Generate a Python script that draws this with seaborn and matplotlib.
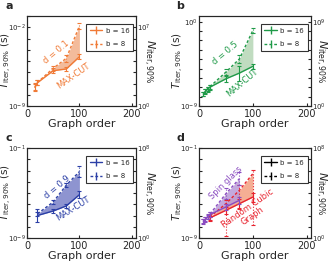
import numpy as np
import pandas as pd
import matplotlib
matplotlib.use("Agg")
import matplotlib.pyplot as plt
import seaborn as sns
from matplotlib.lines import Line2D

# --- data (log10 of T_iter,90% in seconds), error bars in decades ---
a_x = [15, 20, 50, 75, 100]
a_y16 = [-7.34, -6.93, -5.86, -5.71, -4.62]
a_e16 = [0.35, 0.2, 0.2, 0.15, 0.2]
a_y8 = [-7.3, -6.9, -5.65, -4.76, -1.89]
a_e8 = [0.3, 0.2, 0.2, 0.3, 0.3]

b_x = [8, 12, 16, 20, 50, 75, 100]
b_y16 = [-7.75, -7.46, -7.21, -7.0, -6.1, -5.49, -4.77]
b_e16 = [0.2, 0.25, 0.25, 0.25, 0.3, 0.8, 0.3]
b_y8 = [-7.7, -7.4, -7.15, -6.95, -5.38, -3.98, -0.94]
b_e8 = [0.2, 0.2, 0.2, 0.2, 0.3, 0.4, 0.3]

c_x = [20, 50, 75, 100]
c_y16 = [-7.0, -6.6, -6.15, -5.15]
c_e16 = [0.6, 0.2, 0.2, 0.3]
c_y8 = [-6.85, -5.8, -4.3, -3.1]
c_e8 = [0.2, 0.2, 0.2, 0.5]

d_sg_x = [8, 12, 16, 20, 50, 75]
d_sg_y16 = [-7.52, -7.35, -7.15, -6.93, -6.24, -5.65]
d_sg_e16 = [0.2, 0.2, 0.2, 0.2, 0.3, 0.3]
d_sg_y8 = [-7.5, -7.3, -7.1, -6.9, -5.06, -3.73]
d_sg_e8 = [0.2, 0.2, 0.2, 0.2, 0.5, 0.6]

d_rc_x = [20, 50, 75, 100]
d_rc_y16 = [-7.22, -6.54, -5.95, -5.36]
d_rc_e16 = [0.2, 0.3, 0.4, 0.4]
d_rc_y8 = [-7.15, -5.95, -4.76, -3.28]
d_rc_e8_lo = [0.3, 2.9, 1.65, 4.6]
d_rc_e8_hi = [0.3, 0.33, 0.43, 0.3]

ORANGE = "#f07a36"
ORANGE_F = "#f2b08a"
GREEN = "#1f9a48"
GREEN_F = "#b5d6b5"
BLUE = "#2b3fa6"
BLUE_F = "#7a82c8"
PURPLE = "#8a4cc0"
PURPLE_F = "#b99ad8"
RED = "#e8232e"
RED_F = "#f4a081"

sns.set_style("ticks")
plt.rcParams["font.family"] = ["DejaVu Sans"]

fig = plt.figure(figsize=(3.32, 2.64), dpi=100)


def draw_series(ax, x, y16, e16, y8, e8, color, fill, e8_hi=None):
    x = np.array(x)
    t16 = 10.0 ** np.array(y16)
    t8 = 10.0 ** np.array(y8)
    ax.fill_between(x, t16, t8, color=fill, alpha=0.85, lw=0)
    df = pd.DataFrame({"x": np.concatenate([x, x]),
                       "t": np.concatenate([t16, t8]),
                       "b": ["16"] * len(x) + ["8"] * len(x)})
    sns.lineplot(data=df, x="x", y="t", style="b", style_order=["16", "8"],
                 dashes={"16": "", "8": (2, 1.5)}, color=color, lw=1,
                 legend=False, ax=ax)
    if e8_hi is None:
        e8_hi = e8
    for yy, elo, ehi, ls in [(y16, e16, e16, "-"), (y8, e8, e8_hi, ":")]:
        yy = np.array(yy)
        lo = 10.0 ** yy - 10.0 ** (yy - np.array(elo))
        hi = 10.0 ** (yy + np.array(ehi)) - 10.0 ** yy
        eb = ax.errorbar(x, 10.0 ** yy, yerr=[lo, hi], fmt="none", ecolor=color,
                         elinewidth=0.8, capsize=1.2, capthick=0.8)
        eb[2][0].set_linestyle(ls)


def setup(ax, ylo, ytop, ylab, nlab, label, nx):
    # ytop: upper limit (log10) of left axis, ylab: labelled top decade
    ax.set_yscale("log")
    ax.set_xlim(0, 208)
    ax.set_ylim(10.0 ** ylo, 10.0 ** ytop)
    ax.set_xticks([0, 100, 200])
    ax.tick_params(axis="x", labelsize=7, length=2, pad=2.5, direction="in")
    ticks = [10.0 ** k for k in range(ylo, int(np.floor(ytop)) + 1)]
    labels = [""] * len(ticks)
    labels[0] = f"$10^{{{ylo}}}$"
    labels[ylab - ylo] = f"$10^{{{ylab}}}$"
    ax.set_yticks(ticks)
    ax.set_yticklabels(labels)
    ax.minorticks_off()
    ax.tick_params(axis="y", labelsize=5, length=2, pad=1, direction="in")
    ax.set_xlabel("Graph order", fontsize=8, labelpad=0)
    ax.set_ylabel(r"$T_{\rm iter,90\%}$ (s)", fontsize=7.5)
    ax.yaxis.set_label_coords(-0.12, 0.5)
    for s in ax.spines.values():
        s.set_linewidth(0.8)
    ax2 = ax.twinx()
    ax2.set_yscale("log")
    span = ytop - ylo
    ax2.set_ylim(1, 10.0 ** span)
    t2 = [10.0 ** k for k in range(0, int(np.floor(span)) + 1)]
    l2 = [""] * len(t2)
    l2[0] = "$10^{0}$"
    l2[nlab] = f"$10^{{{nlab}}}$"
    ax2.set_yticks(t2)
    ax2.set_yticklabels(l2)
    ax2.minorticks_off()
    ax2.tick_params(axis="y", labelsize=5, length=2, pad=1, direction="in")
    ax2.set_ylabel(r"$N_{\rm iter,90\%}$", fontsize=8, rotation=270,
                   va="bottom")
    ax2.yaxis.set_label_coords(nx, 0.5)
    ax.text(-0.2, 1.11, label, transform=ax.transAxes, fontsize=8,
            fontweight="bold", va="center")


def add_legend(ax, color):
    h = [Line2D([], [], color=color, lw=1, marker="|", ms=6),
         Line2D([], [], color=color, lw=1, ls=(0, (2, 1.5)), marker="|", ms=6)]
    leg = ax.legend(h, ["b = 16", "b = 8"], loc="upper right", fontsize=5,
                    frameon=True, fancybox=False, edgecolor="black",
                    handlelength=1.8, handletextpad=0.5, borderpad=0.5,
                    labelspacing=1.1, borderaxespad=0,
                    bbox_to_anchor=(0.97, 0.91))
    leg.get_frame().set_linewidth(0.8)


W, H = 332, 264
boxes = {"a": (27, 16, 136, 106), "b": (199, 16, 311, 106),
         "c": (27, 148, 136, 238), "d": (199, 148, 311, 238)}


def make_ax(key):
    l, t, r, b = boxes[key]
    return fig.add_axes([l / W, 1 - b / H, (r - l) / W, (b - t) / H])


ax = make_ax("a")
draw_series(ax, a_x, a_y16, a_e16, a_y8, a_e8, ORANGE, ORANGE_F)
setup(ax, -9, -1, -2, 7, "a", 1.05)
add_legend(ax, ORANGE)
ax.text(28, 10 ** -5.2, "d = 0.1", color=ORANGE, fontsize=6, rotation=40)
ax.text(54, 10 ** -7.5, "MAX-CUT", color=ORANGE, fontsize=6, rotation=35)

ax = make_ax("b")
draw_series(ax, b_x, b_y16, b_e16, b_y8, b_e8, GREEN, GREEN_F)
setup(ax, -9, 0.6, 0, 9, "b", 1.02)
add_legend(ax, GREEN)
ax.text(21, 10 ** -4.6, "d = 0.5", color=GREEN, fontsize=6, rotation=40)
ax.text(47, 10 ** -8.0, "MAX-CUT", color=GREEN, fontsize=6, rotation=40)

ax = make_ax("c")
draw_series(ax, c_x, c_y16, c_e16, c_y8, c_e8, BLUE, BLUE_F)
setup(ax, -9, -1, -1, 8, "c", 1.05)
add_legend(ax, BLUE)
ax.text(29, 10 ** -5.5, "d = 0.9", color=BLUE, fontsize=6, rotation=40)
ax.text(53, 10 ** -7.5, "MAX-CUT", color=BLUE, fontsize=6, rotation=32)

ax = make_ax("d")
draw_series(ax, d_rc_x, d_rc_y16, d_rc_e16, d_rc_y8, d_rc_e8_lo, RED, RED_F,
            e8_hi=d_rc_e8_hi)
draw_series(ax, d_sg_x, d_sg_y16, d_sg_e16, d_sg_y8, d_sg_e8, PURPLE, PURPLE_F)
setup(ax, -9, -1, -1, 8, "d", 1.02)
add_legend(ax, "black")
ax.text(16, 10 ** -5.5, "Spin glass", color=PURPLE, fontsize=6, rotation=45)
ax.text(95, 10 ** -6.7, "Random Cubic\nGraph", color=RED, fontsize=6,
        rotation=35, linespacing=1.0, ha="center", va="center",
        multialignment="center")

fig.savefig("out.png", dpi=100)
